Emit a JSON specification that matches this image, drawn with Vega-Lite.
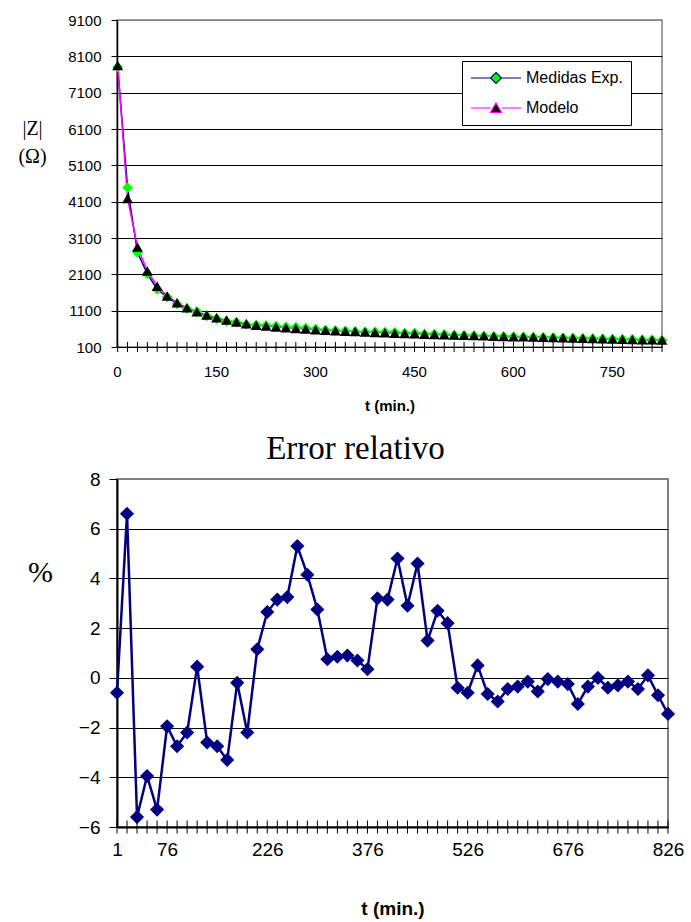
{
  "$schema": "https://vega.github.io/schema/vega-lite/v6.json",
  "autosize": {"type": "none"},
  "padding": {"left": 117, "top": 20, "right": 574, "bottom": 902},
  "background": "white",
  "bounds": "flush",
  "spacing": 132,
  "config": {
    "axis": {
      "labelFont": "Liberation Sans",
      "titleFont": "Liberation Sans",
      "labelColor": "#000000",
      "titleColor": "#000000",
      "tickColor": "#000000",
      "domainColor": "#000000",
      "labelOverlap": false
    }
  },
  "data": {
    "values": [
      {"t": 1, "medidas": 7803, "modelo": 7850, "err": -0.6},
      {"t": 16, "medidas": 4486, "modelo": 4190, "err": 6.6},
      {"t": 31, "medidas": 2704, "modelo": 2855, "err": -5.6},
      {"t": 46, "medidas": 2111, "modelo": 2194, "err": -3.95},
      {"t": 61, "medidas": 1683, "modelo": 1772, "err": -5.3},
      {"t": 76, "medidas": 1476, "modelo": 1505, "err": -1.95},
      {"t": 91, "medidas": 1285, "modelo": 1320, "err": -2.75},
      {"t": 106, "medidas": 1155, "modelo": 1180, "err": -2.2},
      {"t": 121, "medidas": 1075, "modelo": 1070, "err": 0.45},
      {"t": 136, "medidas": 955, "modelo": 980, "err": -2.6},
      {"t": 151, "medidas": 881, "modelo": 905, "err": -2.75},
      {"t": 166, "medidas": 813, "modelo": 840, "err": -3.3},
      {"t": 181, "medidas": 783, "modelo": 785, "err": -0.2},
      {"t": 196, "medidas": 722, "modelo": 738, "err": -2.2},
      {"t": 211, "medidas": 708, "modelo": 700, "err": 1.15},
      {"t": 226, "medidas": 693, "modelo": 675, "err": 2.65},
      {"t": 241, "medidas": 673, "modelo": 652, "err": 3.15},
      {"t": 256, "medidas": 652, "modelo": 631, "err": 3.25},
      {"t": 271, "medidas": 646, "modelo": 612, "err": 5.3},
      {"t": 286, "medidas": 620, "modelo": 594, "err": 4.15},
      {"t": 301, "medidas": 594, "modelo": 578, "err": 2.75},
      {"t": 316, "medidas": 567, "modelo": 563, "err": 0.75},
      {"t": 331, "medidas": 554, "modelo": 549, "err": 0.85},
      {"t": 346, "medidas": 541, "modelo": 536, "err": 0.9},
      {"t": 361, "medidas": 528, "modelo": 524, "err": 0.7},
      {"t": 376, "medidas": 514, "modelo": 512, "err": 0.35},
      {"t": 391, "medidas": 518, "modelo": 501, "err": 3.2},
      {"t": 406, "medidas": 507, "modelo": 491, "err": 3.15},
      {"t": 421, "medidas": 505, "modelo": 481, "err": 4.8},
      {"t": 436, "medidas": 485, "modelo": 471, "err": 2.9},
      {"t": 451, "medidas": 484, "modelo": 462, "err": 4.6},
      {"t": 466, "medidas": 460, "modelo": 453, "err": 1.5},
      {"t": 481, "medidas": 457, "modelo": 445, "err": 2.7},
      {"t": 496, "medidas": 447, "modelo": 437, "err": 2.2},
      {"t": 511, "medidas": 427, "modelo": 429, "err": -0.4},
      {"t": 526, "medidas": 418, "modelo": 421, "err": -0.6},
      {"t": 541, "medidas": 415, "modelo": 413, "err": 0.5},
      {"t": 556, "medidas": 403, "modelo": 406, "err": -0.65},
      {"t": 571, "medidas": 395, "modelo": 399, "err": -0.95},
      {"t": 586, "medidas": 390, "modelo": 392, "err": -0.45},
      {"t": 601, "medidas": 384, "modelo": 385, "err": -0.35},
      {"t": 616, "medidas": 378, "modelo": 379, "err": -0.15},
      {"t": 631, "medidas": 371, "modelo": 373, "err": -0.55},
      {"t": 646, "medidas": 367, "modelo": 367, "err": -0.05},
      {"t": 661, "medidas": 359, "modelo": 360, "err": -0.15},
      {"t": 676, "medidas": 352, "modelo": 353, "err": -0.25},
      {"t": 691, "medidas": 342, "modelo": 346, "err": -1.05},
      {"t": 706, "medidas": 338, "modelo": 339, "err": -0.35},
      {"t": 721, "medidas": 333, "modelo": 333, "err": 0.0},
      {"t": 736, "medidas": 325, "modelo": 326, "err": -0.4},
      {"t": 751, "medidas": 319, "modelo": 320, "err": -0.3},
      {"t": 766, "medidas": 314, "modelo": 314, "err": -0.15},
      {"t": 781, "medidas": 307, "modelo": 308, "err": -0.45},
      {"t": 796, "medidas": 302, "modelo": 302, "err": 0.1},
      {"t": 811, "medidas": 294, "modelo": 296, "err": -0.7},
      {"t": 826, "medidas": 286, "modelo": 290, "err": -1.45}
    ]
  },
  "vconcat": [
    {
      "width": 545,
      "height": 327,
      "view": {"stroke": "#808080", "strokeWidth": 1.5},
      "transform": [{"fold": ["medidas", "modelo"], "as": ["serie", "z"]}],
      "encoding": {
        "x": {
          "field": "t",
          "type": "quantitative",
          "scale": {"domain": [0, 826], "nice": false, "zero": false},
          "axis": {
            "values": [0, 150, 300, 450, 600, 750],
            "ticks": false,
            "domain": false,
            "grid": false,
            "labelFontSize": 15,
            "labelPadding": 17,
            "labelFlush": false,
            "title": "t (min.)",
            "titleFontSize": 15,
            "titleFontWeight": "bold",
            "titleBaseline": "middle",
            "titleY": 58
          }
        },
        "y": {
          "field": "z",
          "type": "quantitative",
          "scale": {"domain": [100, 9100], "nice": false, "zero": false},
          "axis": {
            "values": [100, 1100, 2100, 3100, 4100, 5100, 6100, 7100, 8100, 9100],
            "format": "d",
            "labelFontSize": 15,
            "tickSize": 6,
            "labelPadding": 10,
            "domainWidth": 1.5,
            "grid": true,
            "gridColor": {"condition": {"test": "datum.value == 9100", "value": "#808080"}, "value": "#000000"},
            "gridWidth": 1,
            "title": ["|Z|", "(Ω)"],
            "titleAngle": 0,
            "titleFont": "Liberation Serif",
            "titleFontSize": 20,
            "titleFontWeight": "normal",
            "titleLineHeight": 28,
            "titleAlign": "center",
            "titleBaseline": "middle",
            "titleX": -85,
            "titleY": 108
          }
        }
      },
      "layer": [
        {
          "mark": {"type": "line", "strokeWidth": 1.5},
          "encoding": {
            "color": {
              "field": "serie",
              "type": "nominal",
              "scale": {"domain": ["medidas", "modelo"], "range": ["#000080", "#FF00FF"]},
              "legend": {
                "orient": "none",
                "legendX": 345,
                "legendY": 41,
                "title": null,
                "labelExpr": "datum.value == 'medidas' ? 'Medidas Exp.' : 'Modelo'",
                "labelFont": "Liberation Sans",
                "labelFontSize": 16,
                "labelColor": "#000000",
                "labelOffset": 4,
                "symbolSize": 2500,
                "clipHeight": 18,
                "rowPadding": 12,
                "padding": 8,
                "strokeColor": "#000000",
                "fillColor": "#ffffff",
                "encode": {
                  "symbols": {
                    "update": {
                      "shape": {"signal": "datum.value == 'modelo' ? 'M-1,0H-0.22M0.22,0H1M0,-0.2L0.22,0.18L-0.22,0.18Z' : 'M-1,0H-0.22M0.22,0H1M0,-0.22L0.22,0L0,0.22L-0.22,0Z'"},
                      "fill": {"signal": "datum.value == 'modelo' ? '#000000' : '#00FF00'"},
                      "stroke": {"signal": "datum.value == 'modelo' ? '#FF00FF' : '#000080'"},
                      "strokeWidth": {"value": 1.2},
                      "opacity": {"value": 1}
                    }
                  }
                }
              }
            }
          }
        },
        {
          "transform": [{"filter": "datum.serie == 'medidas'"}],
          "mark": {"type": "point", "shape": "diamond", "filled": true, "size": 115, "opacity": 1, "color": "#00FF00", "strokeWidth": 0}
        },
        {
          "transform": [{"filter": "datum.serie == 'modelo'"}],
          "mark": {"type": "point", "shape": "triangle-up", "filled": true, "size": 120, "opacity": 1, "color": "#000000", "strokeWidth": 0}
        },
        {
          "transform": [{"filter": "datum.serie == 'medidas'"}],
          "mark": {"type": "point", "shape": "M0,-1L0,1", "size": 100, "filled": false, "color": "#000000", "strokeWidth": 1, "opacity": 1},
          "encoding": {"y": {"datum": 100}}
        }
      ]
    },
    {
      "width": 551,
      "height": 348,
      "view": {"stroke": "#808080", "strokeWidth": 2},
      "title": {
        "text": "Error relativo",
        "font": "Liberation Serif",
        "fontSize": 33,
        "fontWeight": "normal",
        "color": "#000000",
        "anchor": "middle",
        "dx": -37,
        "dy": 43,
        "offset": 21,
        "baseline": "alphabetic"
      },
      "encoding": {
        "x": {
          "field": "t",
          "type": "quantitative",
          "scale": {"domain": [1, 826], "nice": false, "zero": false},
          "axis": {
            "values": [1, 76, 226, 376, 526, 676, 826],
            "ticks": false,
            "domain": false,
            "grid": false,
            "labelFontSize": 19,
            "labelPadding": 13,
            "labelFlush": false,
            "title": "t (min.)",
            "titleFontSize": 19,
            "titleFontWeight": "bold",
            "titleBaseline": "middle",
            "titleY": 81
          }
        },
        "y": {
          "field": "err",
          "type": "quantitative",
          "scale": {"domain": [-6, 8], "nice": false, "zero": false},
          "axis": {
            "values": [-6, -4, -2, 0, 2, 4, 6, 8],
            "labelFontSize": 19,
            "tickSize": 8,
            "labelPadding": 9,
            "domainWidth": 2,
            "grid": true,
            "gridColor": {"condition": {"test": "datum.value == 8", "value": "#808080"}, "value": "#000000"},
            "gridWidth": {"condition": {"test": "datum.value == -6", "value": 2}, "value": 1},
            "title": "%",
            "titleAngle": 0,
            "titleFont": "Liberation Serif",
            "titleFontSize": 30,
            "titleFontWeight": "normal",
            "titleAlign": "center",
            "titleBaseline": "middle",
            "titleX": -77,
            "titleY": 93
          }
        }
      },
      "layer": [
        {
          "mark": {
            "type": "line",
            "color": "#000080",
            "strokeWidth": 2.5,
            "point": {"shape": "diamond", "filled": true, "color": "#000080", "size": 200, "opacity": 1}
          }
        },
        {
          "mark": {"type": "point", "shape": "M0,-1L0,1", "size": 169, "filled": false, "color": "#000000", "strokeWidth": 1, "opacity": 1},
          "encoding": {"y": {"datum": -6}}
        }
      ]
    }
  ]
}
